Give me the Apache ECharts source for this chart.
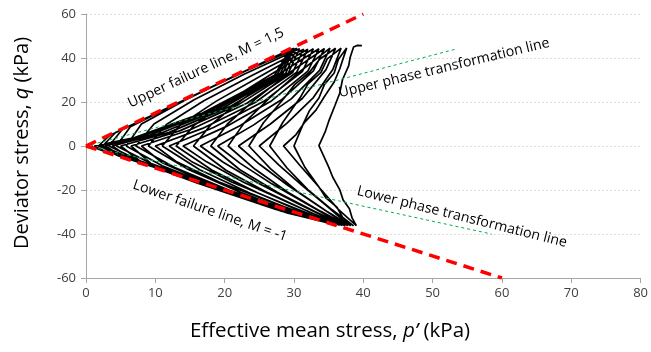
<!DOCTYPE html>
<html>
<head>
<meta charset="utf-8">
<script src="https://cdn.jsdelivr.net/npm/echarts@6/dist/echarts.min.js"></script>
<style>html,body{margin:0;padding:0;background:#fff}#c{width:651px;height:352px}</style>
</head>
<body>
<div id="c"></div>
<script>
// Axis ticks
const xTicks = [0, 10, 20, 30, 40, 50, 60, 70, 80];
const yTicks = [-60, -40, -20, 0, 20, 40, 60];

// Reference lines [p', q]
const upperFailure = [[0, 0], [40, 60]];
const lowerFailure = [[0, 0], [60, -60]];
const upperPhase = [[0, 0], [53.3, 44]];
const lowerPhase = [[0, 0], [58.5, -40]];

const stressPath = [
  [39.8,45.6],[39.1,45.7],[38.6,45.0],
  [38.1,40.2],[37.9,36.5],[37.0,30.1],[36.6,24.0],[35.9,18.3],[35.1,12.0],[34.5,6.4],[33.6,0.2],
  [35.0,-9.5],[35.6,-14.2],[36.6,-19.8],[37.1,-24.6],[38.0,-28.5],[38.4,-32.8],[39.0,-36.2],
  [36.4,-28.8],[33.8,-19.5],[31.6,-9.8],[30.0,0],
  [31.4,10.5],[32.2,15.9],[33.6,21.8],[34.4,28.0],[35.8,33.2],[36.4,39.3],[37.6,44.6],
  [36.6,35.0],[35.8,29.1],[34.4,22.5],[33.2,16.4],[31.6,11.0],[30.3,5.2],[28.5,0],
  [30.9,-9.0],[33.6,-18.6],[34.6,-23.6],[36.2,-27.8],[37.0,-32.4],[38.6,-36.3],
  [35.5,-29.0],[32.0,-19.8],[29.0,-10.0],[26.5,0],
  [28.4,10.8],[30.9,22.0],[32.0,28.1],[33.9,33.5],[34.8,39.6],[36.8,44.5],
  [35.6,34.8],[32.8,22.0],[29.0,10.4],[25.0,0],
  [27.8,-8.6],[31.2,-18.0],[34.8,-27.4],[36.2,-31.3],[38.2,-36.3],
  [34.6,-29.4],[30.4,-20.4],[26.6,-10.3],[23.5,0],
  [25.6,10.6],[28.6,21.8],[30.1,27.9],[32.2,33.4],[33.7,39.4],[36.0,44.4],
  [34.6,34.6],[31.2,21.6],[26.6,10.0],[22.0,0],
  [25.0,-8.2],[29.0,-17.6],[33.4,-27.0],[37.8,-36.2],
  [33.8,-29.6],[29.0,-20.8],[24.4,-10.6],[20.5,0],
  [22.8,10.4],[26.4,21.6],[30.6,33.2],[35.2,44.5],
  [33.7,34.4],[29.6,21.4],[24.2,9.6],[19.0,0],
  [22.2,-7.8],[26.8,-17.2],[32.0,-26.6],[37.4,-36.2],
  [33.0,-29.8],[27.6,-21.0],[22.2,-10.8],[18.0,0],
  [20.4,10.0],[24.4,21.2],[29.2,33.0],[34.4,44.3],
  [32.8,34.2],[28.2,21.0],[22.2,9.2],[16.5,0],
  [19.8,-7.4],[24.8,-16.8],[30.6,-26.2],[37.0,-36.1],
  [32.2,-30.0],[26.2,-21.2],[20.2,-11.0],[15.5,0],
  [18.0,9.6],[22.4,20.8],[27.8,32.6],[33.6,44.2],
  [32.0,34.0],[26.8,20.6],[20.2,8.8],[14.0,0],
  [17.4,-7.2],[22.8,-16.6],[29.4,-26.0],[36.6,-36.0],
  [31.4,-30.2],[24.8,-21.4],[18.2,-11.0],[13.0,0],
  [15.6,9.4],[20.6,20.6],[26.6,32.4],[32.8,44.2],
  [31.2,33.8],[25.6,20.2],[18.4,8.4],[12.0,0],
  [15.2,-7.0],[21.0,-16.4],[28.2,-25.8],[36.2,-35.9],
  [30.8,-30.4],[23.6,-21.4],[16.4,-10.8],[11.0,0],
  [13.6,9.6],[18.8,20.4],[25.4,32.2],[32.0,44.0],
  [30.4,33.6],[24.4,19.8],[16.8,8.0],[10.0,0],
  [13.0,-7.0],[19.2,-16.4],[27.0,-25.8],[35.9,-35.8],
  [30.2,-30.6],[22.4,-21.2],[14.6,-10.4],[9.0,0],
  [11.6,9.8],[17.0,20.6],[24.0,32.2],[31.4,44.0],
  [29.8,33.4],[23.2,19.4],[15.2,7.6],[8.0,0],
  [11.0,-7.6],[17.4,-16.6],[26.0,-25.8],[35.6,-35.5],
  [29.6,-30.6],[21.2,-20.8],[12.8,-9.8],[7.2,0],
  [9.8,10.0],[15.6,21.0],[22.8,32.6],[30.8,44.2],
  [29.2,33.2],[22.0,18.8],[13.6,7.0],[6.5,0],
  [9.4,-8.0],[16.0,-15.6],[25.0,-25.0],[35.3,-35.2],
  [29.0,-30.4],[20.0,-20.2],[11.0,-9.0],[5.8,0],
  [8.0,10.0],[14.4,21.0],[21.8,32.4],[30.4,44.4],
  [28.8,33.0],[20.8,18.0],[12.0,6.2],[5.0,0],
  [8.0,-7.4],[15.0,-14.6],[24.6,-24.2],[35.0,-34.8],
  [28.6,-30.0],[19.0,-19.2],[9.4,-8.0],[4.4,0],
  [6.4,8.8],[13.2,19.4],[21.0,31.2],[30.0,44.4],
  [28.4,33.0],[19.8,17.4],[10.6,5.6],[3.8,0],
  [6.8,-6.4],[14.2,-13.8],[24.2,-23.8],[34.8,-34.5],
  [28.2,-29.6],[18.0,-18.4],[8.0,-7.0],[3.3,0],
  [5.2,7.4],[12.4,18.2],[20.4,30.2],[29.8,44.2],
  [28.0,32.8],[18.8,16.6],[9.2,5.0],[2.8,0],
  [5.6,-5.4],[13.4,-13.0],[23.8,-23.4],[34.6,-34.3],
  [27.8,-29.2],[17.0,-17.6],[6.8,-6.0],[2.4,0],
  [4.2,6.0],[11.8,17.4],[20.0,29.6],[29.6,44.0],
  [27.6,32.6],[17.8,15.8],[8.0,4.4],[2.0,0],
  [4.6,-4.4],[12.8,-12.6],[23.4,-23.0],[34.5,-34.2],
  [27.4,-28.8],[16.0,-16.8],[5.8,-5.0],[1.8,0],
  [3.4,4.8],[11.2,16.4],[19.6,29.0],[29.4,43.8],
  [27.2,32.2],[16.8,15.0],[7.0,3.8],[1.2,0],
  [3.0,-2.8],[1.0,-0.6],[0.8,0.2]
];

const FONT = '"Open Sans", "Liberation Sans", sans-serif';
const chart = echarts.init(document.getElementById('c'), null, {renderer: 'canvas'});
chart.setOption({
  animation: false,
  backgroundColor: '#ffffff',
  grid: {left: 86, right: 8, top: 14, bottom: 74, containLabel: false},
  xAxis: {
    type: 'value', min: xTicks[0], max: xTicks[xTicks.length - 1], interval: 10,
    axisLine: {onZero: false, lineStyle: {color: '#a6a6a6', width: 1}},
    axisTick: {show: true, inside: false, length: 5, lineStyle: {color: '#a6a6a6'}},
    axisLabel: {color: '#404040', fontSize: 13, fontFamily: FONT, margin: 9},
    splitLine: {show: false}
  },
  yAxis: {
    type: 'value', min: yTicks[0], max: yTicks[yTicks.length - 1], interval: 20,
    axisLine: {show: true, onZero: false, lineStyle: {color: '#a6a6a6', width: 1}},
    axisTick: {show: true, inside: false, length: 5, lineStyle: {color: '#a6a6a6'}},
    axisLabel: {color: '#404040', fontSize: 13, fontFamily: FONT, margin: 10},
    splitLine: {show: true, lineStyle: {color: '#dcdcdc', type: [2, 2], width: 1}}
  },
  series: [
    {type: 'line', data: stressPath, showSymbol: false, symbol: 'none',
     lineStyle: {color: '#000000', width: 1.7}, z: 2},
    {type: 'line', data: upperPhase, showSymbol: false, symbol: 'none',
     lineStyle: {color: '#00b050', width: 1, type: [3, 3]}, z: 3},
    {type: 'line', data: lowerPhase, showSymbol: false, symbol: 'none',
     lineStyle: {color: '#00b050', width: 1, type: [3, 3]}, z: 3},
    {type: 'line', data: upperFailure, showSymbol: false, symbol: 'none',
     lineStyle: {color: '#ff0000', width: 3.5, type: [11, 7]}, z: 4},
    {type: 'line', data: lowerFailure, showSymbol: false, symbol: 'none',
     lineStyle: {color: '#ff0000', width: 3.5, type: [11, 7]}, z: 4}
  ],
  graphic: [
    {type: 'text', x: 206, y: 68, rotation: 25 * Math.PI / 180, z: 10,
     style: {text: 'Upper failure line, M = 1,5', font: '14.2px ' + FONT, fill: '#000',
       textAlign: 'center', textVerticalAlign: 'middle', align: 'center', verticalAlign: 'middle'}},
    {type: 'text', x: 444, y: 68, rotation: 13.5 * Math.PI / 180, z: 10,
     style: {text: 'Upper phase transformation line', font: '14.2px ' + FONT, fill: '#000',
       textAlign: 'center', textVerticalAlign: 'middle', align: 'center', verticalAlign: 'middle'}},
    {type: 'text', x: 210, y: 211, rotation: -19 * Math.PI / 180, z: 10,
     style: {text: 'Lower failure line, M = -1', font: '14.2px ' + FONT, fill: '#000',
       textAlign: 'center', textVerticalAlign: 'middle', align: 'center', verticalAlign: 'middle'}},
    {type: 'text', x: 462, y: 217, rotation: -14 * Math.PI / 180, z: 10,
     style: {text: 'Lower phase transformation line', font: '14.2px ' + FONT, fill: '#000',
       textAlign: 'center', textVerticalAlign: 'middle', align: 'center', verticalAlign: 'middle'}},
    {type: 'text', x: 330, y: 331, z: 10,
     style: {text: '{n|Effective mean stress, }{i|p\u2019}{n| (kPa)}',
       rich: {n: {font: '20.5px ' + FONT, fill: '#000'}, i: {font: 'italic 20.5px ' + FONT, fill: '#000'}},
       font: '20.5px ' + FONT,
       textAlign: 'center', textVerticalAlign: 'middle', align: 'center', verticalAlign: 'middle'}},
    {type: 'text', x: 22, y: 143, rotation: Math.PI / 2, z: 10,
     style: {text: '{n|Deviator stress, }{i|q}{n| (kPa)}',
       rich: {n: {font: '20px ' + FONT, fill: '#000'}, i: {font: 'italic 20px ' + FONT, fill: '#000'}},
       font: '20px ' + FONT,
       textAlign: 'center', textVerticalAlign: 'middle', align: 'center', verticalAlign: 'middle'}}
  ]
});
</script>
</body>
</html>
